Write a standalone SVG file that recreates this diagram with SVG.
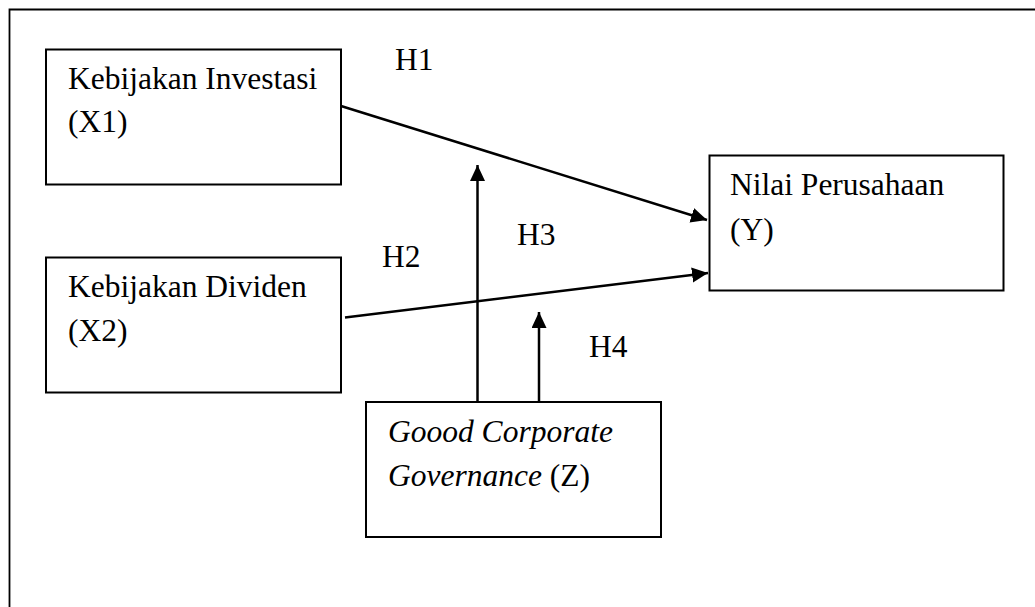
<svg xmlns="http://www.w3.org/2000/svg" width="1035" height="607" viewBox="0 0 1035 607">
<defs>
<style>
.box{fill:#fff;stroke:#000;stroke-width:2}
.t{font-family:"Liberation Serif","Times New Roman",serif;font-size:31.5px;fill:#000}
.i{font-style:italic}
.c{stroke:#000;stroke-width:2.5;fill:none;marker-end:url(#ah)}
.frame{stroke:#000;stroke-width:1.8;fill:none}
</style>
<marker id="ah" markerUnits="userSpaceOnUse" markerWidth="18" markerHeight="16" refX="16" refY="7.5" orient="auto">
<path d="M0,0 L16,7.5 L0,15 Z" fill="#000"/>
</marker>
</defs>
<rect width="1035" height="607" fill="#fff"/>
<path class="frame" d="M9.5,607 V9.5 H1035"/>
<g id="x1">
<rect class="box" x="46" y="49.5" width="295" height="135"/>
<text class="t" x="68" y="89">Kebijakan Investasi</text>
<text class="t" x="68" y="132">(X1)</text>
</g>
<g id="x2">
<rect class="box" x="46" y="257.5" width="295" height="135"/>
<text class="t" x="68" y="297">Kebijakan Dividen</text>
<text class="t" x="68" y="341">(X2)</text>
</g>
<g id="y">
<rect class="box" x="709.5" y="155.5" width="294" height="135"/>
<text class="t" x="730" y="195">Nilai Perusahaan</text>
<text class="t" x="730" y="240">(Y)</text>
</g>
<g id="z">
<rect class="box" x="366" y="402" width="295" height="135"/>
<text class="t i" x="388" y="442">Goood Corporate</text>
<text class="t" x="388" y="486"><tspan class="i">Governance</tspan> (Z)</text>
</g>
<g id="connectors">
<line class="c" x1="341" y1="106" x2="707" y2="220"/>
<line class="c" x1="345" y1="317.5" x2="708" y2="273"/>
<line class="c" x1="477.5" y1="402" x2="477.5" y2="165"/>
<line class="c" x1="539" y1="402" x2="539" y2="312"/>
</g>
<g id="labels">
<text class="t" x="395" y="70">H1</text>
<text class="t" x="382" y="267">H2</text>
<text class="t" x="517" y="245">H3</text>
<text class="t" x="589" y="357">H4</text>
</g>
</svg>
